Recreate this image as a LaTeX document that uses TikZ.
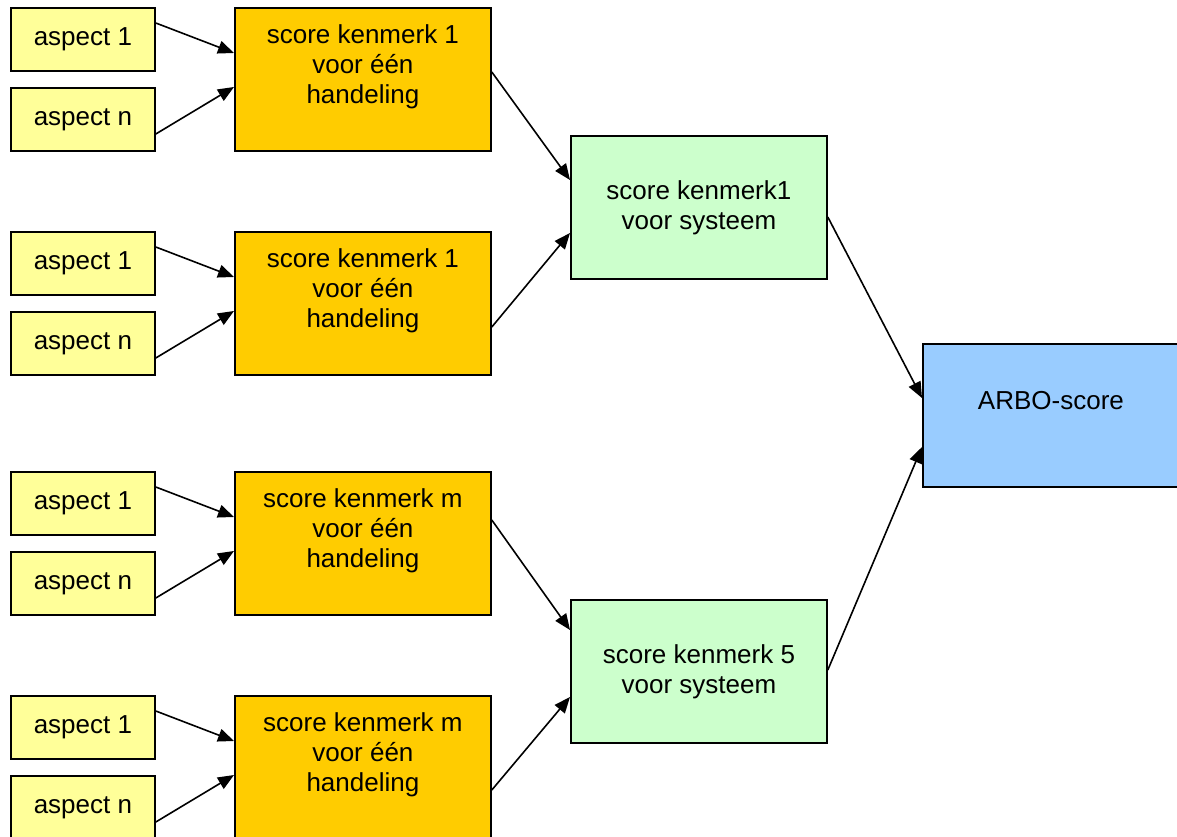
\documentclass[tikz,border=0pt]{standalone}
\usepackage{fontspec}
\setmainfont{Liberation Sans}
\usetikzlibrary{
    arrows.meta,
    positioning
}

\definecolor{aspectgeel}{HTML}{FFFF99}
\definecolor{handelingoranje}{HTML}{FFCC00}
\definecolor{systeemgroen}{HTML}{CCFFCC}
\definecolor{arboblauw}{HTML}{99CCFF}

\tikzset{
    box/.style={draw, line width=1.8pt, rectangle, anchor=north west, inner sep=0pt},
    aspect/.style={box, fill=aspectgeel, minimum width=144pt, minimum height=63pt},
    handeling/.style={box, fill=handelingoranje, minimum width=256pt, minimum height=143pt},
    systeem/.style={box, fill=systeemgroen, minimum width=256pt, minimum height=143pt, align=center},
    arbo/.style={box, fill=arboblauw, minimum width=256pt, minimum height=143pt},
    txt/.style={inner sep=0pt, align=center}
}

\begin{document}
\begin{tikzpicture}[x=1pt, y=-1pt, font=\fontsize{26}{30}\selectfont,
                    >={Triangle[length=16pt, width=13pt]}]
    \useasboundingbox (0, 0) rectangle (1177, 837);

    % aspecten en score per handeling
    \foreach \i/\y/\k in {1/7/1, 2/231/1, 3/471/m, 4/695/m} {
        \node[aspect] (a\i) at (10, \y) {aspect 1};
        \node[aspect] (n\i) at (10, \y+80) {aspect n};
        \node[handeling] (h\i) at (234, \y) {};
        \node[txt, below=17pt of h\i.north] (t\i) {score kenmerk \k\\voor één\\handeling};
        \draw[line width=1.6pt]
        ([yshift=-16pt]a\i.north east) edge[->] ([yshift=-46pt]h\i.north west)
        ([yshift=-47pt]n\i.north east) edge[->] ([yshift=-80pt]h\i.north west);
    }

    % score per systeem
    \node[systeem] (s1) at (570, 135) {score kenmerk1\\voor systeem};
    \node[systeem] (s5) at (570, 599) {score kenmerk 5\\voor systeem};

    \node[arbo] (arbo) at (922, 343) {};
    \node[txt, below=48pt of arbo.north] (arbotxt) {ARBO-score};

    \draw[line width=1.6pt]
    ([yshift=-65pt]h1.north east) edge[->] ([yshift=-45pt]s1.north west)
    ([yshift=-96pt]h2.north east) edge[->] ([yshift=-98pt]s1.north west)
    ([yshift=-49pt]h3.north east) edge[->] ([yshift=-31pt]s5.north west)
    ([yshift=-95pt]h4.north east) edge[->] ([yshift=-98pt]s5.north west)
    ([yshift=-82pt]s1.north east) edge[->] ([yshift=-55pt]arbo.north west)
    ([yshift=-71pt]s5.north east) edge[->] ([yshift=-104pt]arbo.north west);
\end{tikzpicture}
\end{document}
